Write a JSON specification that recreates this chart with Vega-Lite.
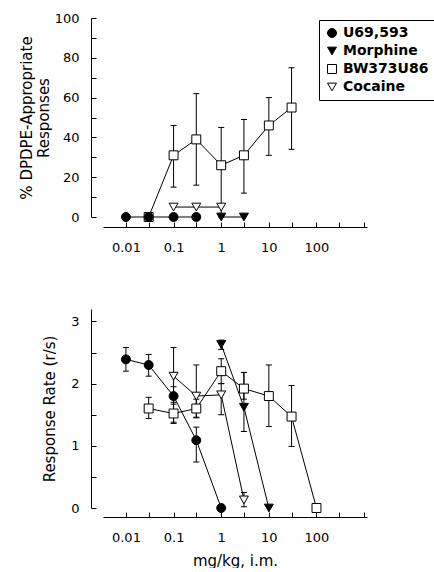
{
  "$schema": "https://vega.github.io/schema/vega-lite/v6.json",
  "padding": {"left": 19, "top": 12, "right": 0, "bottom": 0},
  "background": "white",
  "config": {
    "view": {"stroke": null},
    "font": "DejaVu Sans",
    "axis": {"domainColor": "black", "tickColor": "black", "labelColor": "black", "titleColor": "black", "grid": false,
      "labelFont": "DejaVu Sans", "labelFontSize": 13, "titleFont": "DejaVu Sans", "titleFontSize": 15, "titleFontWeight": "normal",
      "tickSize": -5, "labelPadding": 17, "domainWidth": 1, "tickWidth": 1, "labelOverlap": false, "tickCount": 30},
    "legend": {"symbolStrokeColor": "black", "symbolStrokeWidth": 1}
  },
  "datasets": {
    "d": [
      {"p": "top", "s": "BW373U86", "d": 0.03, "v": 0, "lo": null, "hi": null},
      {"p": "top", "s": "BW373U86", "d": 0.1, "v": 31, "lo": 15, "hi": 46},
      {"p": "top", "s": "BW373U86", "d": 0.3, "v": 39, "lo": 16, "hi": 62},
      {"p": "top", "s": "BW373U86", "d": 1, "v": 26, "lo": 0, "hi": 45},
      {"p": "top", "s": "BW373U86", "d": 3, "v": 31, "lo": 12, "hi": 49},
      {"p": "top", "s": "BW373U86", "d": 10, "v": 46, "lo": 31, "hi": 60},
      {"p": "top", "s": "BW373U86", "d": 30, "v": 55, "lo": 34, "hi": 75},
      {"p": "top", "s": "U69,593", "d": 0.01, "v": 0, "lo": null, "hi": null},
      {"p": "top", "s": "U69,593", "d": 0.03, "v": 0, "lo": null, "hi": null},
      {"p": "top", "s": "U69,593", "d": 0.1, "v": 0, "lo": null, "hi": null},
      {"p": "top", "s": "U69,593", "d": 0.3, "v": 0, "lo": null, "hi": null},
      {"p": "top", "s": "Morphine", "d": 1, "v": 0, "lo": null, "hi": null},
      {"p": "top", "s": "Morphine", "d": 3, "v": 0, "lo": null, "hi": null},
      {"p": "top", "s": "Cocaine", "d": 0.1, "v": 5, "lo": null, "hi": null},
      {"p": "top", "s": "Cocaine", "d": 0.3, "v": 5, "lo": null, "hi": null},
      {"p": "top", "s": "Cocaine", "d": 1, "v": 5, "lo": null, "hi": null},
      {"p": "bot", "s": "BW373U86", "d": 0.03, "v": 1.6, "lo": 1.44, "hi": 1.78},
      {"p": "bot", "s": "BW373U86", "d": 0.1, "v": 1.52, "lo": 1.36, "hi": 1.67},
      {"p": "bot", "s": "BW373U86", "d": 0.3, "v": 1.6, "lo": 1.45, "hi": 1.75},
      {"p": "bot", "s": "BW373U86", "d": 1, "v": 2.2, "lo": 2.0, "hi": 2.4},
      {"p": "bot", "s": "BW373U86", "d": 3, "v": 1.92, "lo": 1.75, "hi": 2.18},
      {"p": "bot", "s": "BW373U86", "d": 10, "v": 1.8, "lo": 1.31, "hi": 2.3},
      {"p": "bot", "s": "BW373U86", "d": 30, "v": 1.47, "lo": 0.99, "hi": 1.97},
      {"p": "bot", "s": "BW373U86", "d": 100, "v": 0, "lo": null, "hi": null},
      {"p": "bot", "s": "Cocaine", "d": 0.1, "v": 2.12, "lo": 1.7, "hi": 2.58},
      {"p": "bot", "s": "Cocaine", "d": 0.3, "v": 1.8, "lo": 1.46, "hi": 2.3},
      {"p": "bot", "s": "Cocaine", "d": 1, "v": 1.82, "lo": 1.5, "hi": 2.0},
      {"p": "bot", "s": "Cocaine", "d": 3, "v": 0.13, "lo": 0.02, "hi": 0.25},
      {"p": "bot", "s": "Morphine", "d": 1, "v": 2.63, "lo": 2.55, "hi": 2.7},
      {"p": "bot", "s": "Morphine", "d": 3, "v": 1.62, "lo": 1.23, "hi": 2.18},
      {"p": "bot", "s": "Morphine", "d": 10, "v": 0, "lo": null, "hi": null},
      {"p": "bot", "s": "U69,593", "d": 0.01, "v": 2.39, "lo": 2.2, "hi": 2.58},
      {"p": "bot", "s": "U69,593", "d": 0.03, "v": 2.3, "lo": 2.12, "hi": 2.47},
      {"p": "bot", "s": "U69,593", "d": 0.1, "v": 1.8, "lo": 1.38, "hi": 1.95},
      {"p": "bot", "s": "U69,593", "d": 0.3, "v": 1.09, "lo": 0.74, "hi": 1.3},
      {"p": "bot", "s": "U69,593", "d": 1, "v": 0, "lo": null, "hi": null}
    ]
  },
  "resolve": {"legend": {"shape": "independent", "fill": "independent", "stroke": "independent"}},
  "spacing": 55,
  "vconcat": [
    {
      "width": 264,
      "height": 199,
      "data": {"name": "d"},
      "transform": [{"filter": "datum.p == 'top'"}],
      "layer": [
        {
          "mark": {"type": "line", "color": "black", "strokeWidth": 1},
          "encoding": {
            "x": {"field": "d", "type": "quantitative", "scale": {"type": "log", "domain": [0.0033, 1150], "nice": false},
              "axis": {"values": [0.01, 0.03, 0.1, 0.3, 1, 3, 10, 30, 100, 300, 1000], "format": "~g", "tickCount": 30,
                "labelExpr": "(datum.value == 0.01 || datum.value == 0.1 || datum.value == 1 || datum.value == 10 || datum.value == 100) ? datum.label : ''",
                "offset": 10, "title": null, "labelFlush": false, "labelPadding": 19, "labelOverlap": false}},
            "y": {"field": "v", "type": "quantitative", "scale": {"domain": [0, 100], "nice": false},
              "axis": {"values": [0, 10, 20, 30, 40, 50, 60, 70, 80, 90, 100], "tickCount": 30,
                "labelExpr": "(datum.value == 0 || datum.value == 20 || datum.value == 40 || datum.value == 60 || datum.value == 80 || datum.value == 100) ? datum.label : ''",
                "offset": 12, "title": ["% DPDPE-Appropriate", "Responses"], "titlePadding": 3, "labelOverlap": false}},
            "detail": {"field": "s"}
          }
        },
        {
          "mark": {"type": "rule", "color": "black", "strokeWidth": 1},
          "encoding": {
            "x": {"field": "d", "type": "quantitative"},
            "y": {"field": "lo", "type": "quantitative"},
            "y2": {"field": "hi"}
          }
        },
        {
          "mark": {"type": "tick", "orient": "horizontal", "size": 6, "thickness": 1, "color": "black", "opacity": 1},
          "encoding": {"x": {"field": "d", "type": "quantitative"}, "y": {"field": "lo", "type": "quantitative"}}
        },
        {
          "mark": {"type": "tick", "orient": "horizontal", "size": 6, "thickness": 1, "color": "black", "opacity": 1},
          "encoding": {"x": {"field": "d", "type": "quantitative"}, "y": {"field": "hi", "type": "quantitative"}}
        },
        {
          "mark": {"type": "point", "strokeWidth": 1, "opacity": 1, "size": 80},
          "encoding": {
            "x": {"field": "d", "type": "quantitative"},
            "y": {"field": "v", "type": "quantitative"},
            "shape": {"field": "s", "type": "nominal",
              "scale": {"domain": ["U69,593", "Morphine", "BW373U86", "Cocaine"], "range": ["circle", "triangle-down", "square", "triangle-down"]},
              "legend": {"orient": "none", "legendX": 216, "legendY": 2, "title": null, "strokeColor": "black", "fillColor": "white", "padding": 6,
                "labelFont": "DejaVu Sans", "labelFontSize": 14, "labelFontWeight": "bold", "labelColor": "black",
                "symbolSize": 80, "rowPadding": 4}},
            "fill": {"field": "s", "type": "nominal",
              "scale": {"domain": ["U69,593", "Morphine", "BW373U86", "Cocaine"], "range": ["black", "black", "white", "white"]},
              "legend": {"orient": "none", "legendX": 216, "legendY": 2, "title": null, "strokeColor": "black", "fillColor": "white", "padding": 6,
                "labelFont": "DejaVu Sans", "labelFontSize": 14, "labelFontWeight": "bold", "labelColor": "black",
                "symbolSize": 80, "rowPadding": 4}},
            "stroke": {"field": "s", "type": "nominal",
              "scale": {"domain": ["U69,593", "Morphine", "BW373U86", "Cocaine"], "range": ["black", "black", "black", "black"]},
              "legend": {"orient": "none", "legendX": 216, "legendY": 2, "title": null, "strokeColor": "black", "fillColor": "white", "padding": 6,
                "labelFont": "DejaVu Sans", "labelFontSize": 14, "labelFontWeight": "bold", "labelColor": "black",
                "symbolSize": 80, "rowPadding": 4}}
          }
        }
      ]
    },
    {
      "width": 264,
      "height": 199,
      "data": {"name": "d"},
      "transform": [{"filter": "datum.p == 'bot'"}],
      "layer": [
        {
          "mark": {"type": "line", "color": "black", "strokeWidth": 1},
          "encoding": {
            "x": {"field": "d", "type": "quantitative", "scale": {"type": "log", "domain": [0.0033, 1150], "nice": false},
              "axis": {"values": [0.01, 0.03, 0.1, 0.3, 1, 3, 10, 30, 100, 300, 1000], "format": "~g", "tickCount": 30,
                "labelExpr": "(datum.value == 0.01 || datum.value == 0.1 || datum.value == 1 || datum.value == 10 || datum.value == 100) ? datum.label : ''",
                "offset": 9, "title": "mg/kg, i.m.", "titlePadding": 9, "labelFlush": false, "labelPadding": 19, "labelOverlap": false}},
            "y": {"field": "v", "type": "quantitative", "scale": {"domain": [0, 3.2], "nice": false},
              "axis": {"values": [0, 0.5, 1, 1.5, 2, 2.5, 3], "format": "~g", "tickCount": 30, "labelExpr": "datum.value % 1 == 0 ? datum.label : ''",
                "offset": 12, "title": "Response Rate (r/s)", "titlePadding": 13, "labelOverlap": false}},
            "detail": {"field": "s"}
          }
        },
        {
          "mark": {"type": "rule", "color": "black", "strokeWidth": 1},
          "encoding": {
            "x": {"field": "d", "type": "quantitative"},
            "y": {"field": "lo", "type": "quantitative"},
            "y2": {"field": "hi"}
          }
        },
        {
          "mark": {"type": "tick", "orient": "horizontal", "size": 6, "thickness": 1, "color": "black", "opacity": 1},
          "encoding": {"x": {"field": "d", "type": "quantitative"}, "y": {"field": "lo", "type": "quantitative"}}
        },
        {
          "mark": {"type": "tick", "orient": "horizontal", "size": 6, "thickness": 1, "color": "black", "opacity": 1},
          "encoding": {"x": {"field": "d", "type": "quantitative"}, "y": {"field": "hi", "type": "quantitative"}}
        },
        {
          "mark": {"type": "point", "stroke": "black", "strokeWidth": 1, "opacity": 1, "size": 80},
          "encoding": {
            "x": {"field": "d", "type": "quantitative"},
            "y": {"field": "v", "type": "quantitative"},
            "shape": {"field": "s", "type": "nominal",
              "scale": {"domain": ["U69,593", "Morphine", "BW373U86", "Cocaine"], "range": ["circle", "triangle-down", "square", "triangle-down"]},
              "legend": null},
            "fill": {"field": "s", "type": "nominal",
              "scale": {"domain": ["U69,593", "Morphine", "BW373U86", "Cocaine"], "range": ["black", "black", "white", "white"]},
              "legend": null}
          }
        }
      ]
    }
  ]
}
